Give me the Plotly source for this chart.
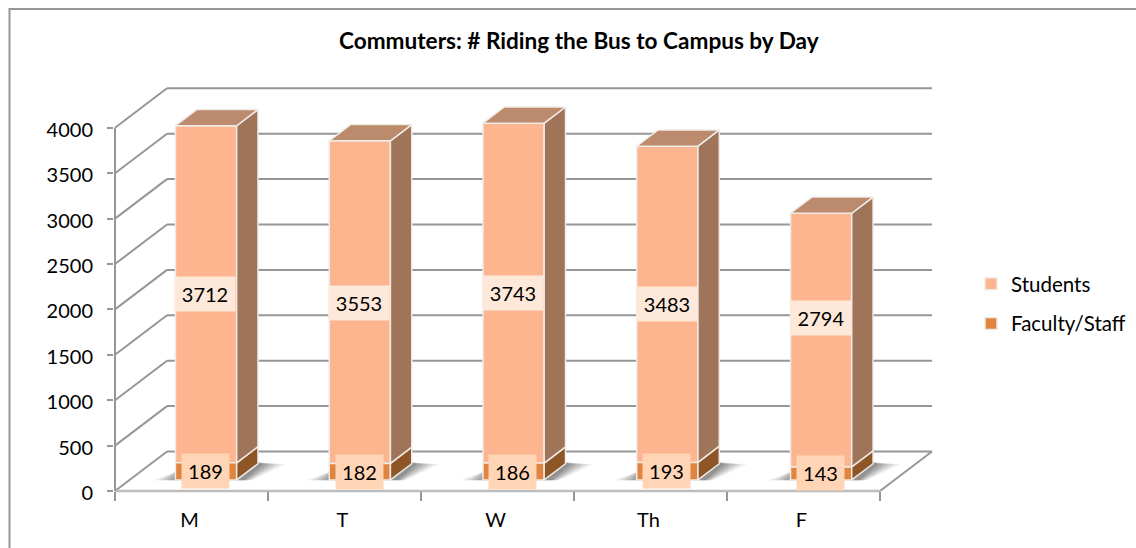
import plotly.graph_objects as go

days = ["M", "T", "W", "Th", "F"]
students = [3712, 3553, 3743, 3483, 2794]
faculty = [189, 182, 186, 193, 143]
y_ticks = [0, 500, 1000, 1500, 2000, 2500, 3000, 3500, 4000]
title = "Commuters: # Riding the Bus to Campus by Day"

W, H = 1136, 548
X0_PX, CAT_PX = 115.0, 153.0      # left end of front floor, width of one category
Y0_PX, UNIT_PX = 491.0, 0.0908    # zero line, px per rider
DEPTH_PX = (52.0, 39.5)
BAR_Z0, BAR_Z1 = 0.28, 0.69
HALF = 0.2
SPREAD = 1.005
LABEL_SHIFT = [0, -1, 0, 0, 22]

DX = DEPTH_PX[0] / CAT_PX
DY = DEPTH_PX[1] / UNIT_PX
xr = [-0.5 - X0_PX / CAT_PX, -0.5 + (W - X0_PX) / CAT_PX]
yr = [-(H - Y0_PX) / UNIT_PX, Y0_PX / UNIT_PX]
XL, XR = -0.5, len(days) - 0.5


def proj(x, v, z):
    return x + z * DX, v + z * DY


GRID = "#969696"
EDGE = "#EFEBE7"
S_FRONT, S_SIDE, S_TOP = "#FCB58F", "#9F7459", "#BC8A6C"
F_FRONT, F_SIDE = "#E0843F", "#8E5526"
FONT = "Lato, Carlito, sans-serif"
centers = [i * SPREAD for i in range(len(days))]

shapes = []


def seg(a, b, color=GRID, width=2):
    shapes.append(dict(type="line", xref="x", yref="y", x0=a[0], y0=a[1], x1=b[0], y1=b[1],
                       line=dict(color=color, width=width), layer="below"))


# chart frame
shapes.append(dict(type="rect", xref="paper", yref="paper", x0=9.5 / W, x1=1.2, y0=-0.2, y1=1 - 9 / H,
                   line=dict(color=GRID, width=2), layer="below"))

# walls and floor
for v in y_ticks[1:]:
    seg(proj(XL, v, 0), proj(XL, v, 1))
    seg(proj(XL, v, 1), proj(XR, v, 1))
seg(proj(XL, 0, 0), proj(XL, 0, 1))
seg(proj(XL, 0, 1), proj(XR, 0, 1))
seg(proj(XR, 0, 1), proj(XR, 0, 0))
seg(proj(XL, 0, 0), proj(XR, 0, 0), color="#BDBDBD", width=2.5)
seg(proj(XL, 0, 0), proj(XL, y_ticks[-1], 0))

# soft shadows on the floor
for c in centers:
    for grow, alpha in [(0.17, 0.10), (0.13, 0.15), (0.09, 0.20), (0.05, 0.25), (0.01, 0.30)]:
        pts = [
            proj(c - HALF - grow * 0.85, 0, BAR_Z0 - 0.01),
            proj(c + HALF + 0.05 + grow * 0.3, 0, BAR_Z0 - 0.01),
            proj(c + HALF + 0.03 + grow * 0.9, 0, BAR_Z0 + 0.40),
            proj(c + HALF - 0.02, 0, BAR_Z0 + 0.45),
            proj(c - HALF - 0.06, 0, BAR_Z0 + 0.42 - grow * 1.2),
        ]
        path = "M " + " L ".join(f"{a},{b}" for a, b in pts) + " Z"
        shapes.append(dict(type="path", path=path, xref="x", yref="y", fillcolor="#606060",
                           opacity=alpha, line=dict(width=0), layer="below"))

fig = go.Figure()
bar_x = [proj(c, 0, BAR_Z0)[0] for c in centers]
base_off = BAR_Z0 * DY
common = dict(x=bar_x, width=2 * HALF, cliponaxis=False, hoverinfo="skip")
fig.add_bar(name="Students", y=students, base=[base_off + f for f in faculty],
            marker=dict(color=S_FRONT, line=dict(color=EDGE, width=1.5)), legendgroup="s", **common)
fig.add_bar(name="Faculty/Staff", y=faculty, base=[base_off] * len(days),
            marker=dict(color=F_FRONT, line=dict(color=EDGE, width=1.5)), legendgroup="f", **common)


def poly_trace(polys, color):
    xs, ys = [], []
    for p in polys:
        for a, b in p + [p[0]]:
            xs.append(a)
            ys.append(b)
        xs.append(None)
        ys.append(None)
    fig.add_scatter(x=xs, y=ys, mode="lines", fill="toself", fillcolor=color,
                    line=dict(color=EDGE, width=1.5), showlegend=False, hoverinfo="skip")


def side(c, low, high):
    r = c + HALF
    return [proj(r, low, BAR_Z0), proj(r, low, BAR_Z1), proj(r, high, BAR_Z1), proj(r, high, BAR_Z0)]


def top(c, v):
    l, r = c - HALF, c + HALF
    return [proj(l, v, BAR_Z0), proj(r, v, BAR_Z0), proj(r, v, BAR_Z1), proj(l, v, BAR_Z1)]


poly_trace([side(c, 0, f) for c, f in zip(centers, faculty)], F_SIDE)
poly_trace([side(c, f, f + s) for c, f, s in zip(centers, faculty, students)], S_SIDE)
poly_trace([top(c, f + s) for c, f, s in zip(centers, faculty, students)], S_TOP)

annotations = []
for i in range(len(days)):
    cx = bar_x[i] - 0.004
    annotations.append(dict(x=cx, y=base_off + faculty[i] + students[i] / 2, text=str(students[i]),
                            showarrow=False, bgcolor="#FDE8D9", width=60, height=34, borderpad=0,
                            yshift=LABEL_SHIFT[i], font=dict(family=FONT, size=20, color="#000000")))
    annotations.append(dict(x=cx, y=base_off + faculty[i] / 2, text=str(faculty[i]),
                            showarrow=False, bgcolor="#FFD5B5", width=47, height=34, borderpad=0,
                            font=dict(family=FONT, size=20, color="#000000")))
annotations.append(dict(xref="paper", yref="paper", x=578.5 / W, y=1 - 41 / H, yanchor="middle",
                        text=f"<b>{title}</b>", showarrow=False,
                        font=dict(family=FONT, size=22.6, color="#000000")))

fig.update_layout(
    width=W, height=H, margin=dict(l=0, r=0, t=0, b=0),
    paper_bgcolor="#FFFFFF", plot_bgcolor="rgba(0,0,0,0)",
    barmode="overlay", shapes=shapes, annotations=annotations,
    font=dict(family=FONT, size=20, color="#000000"),
    legend=dict(x=971 / W, y=1 - 304 / H, yanchor="middle", xanchor="left", traceorder="grouped",
                tracegroupgap=10, bgcolor="rgba(0,0,0,0)", font=dict(family=FONT, size=20.5)),
    xaxis=dict(range=xr, domain=[0, 1], anchor="free", position=1 - Y0_PX / H, showgrid=False,
               zeroline=False, showline=False, tickmode="array", tickvals=list(range(len(days))),
               ticktext=days, ticks="", ticklabelstandoff=15, ticklabelshift=-2,
               tickfont=dict(family=FONT, size=20),
               minor=dict(tickvals=[i - 0.5 for i in range(len(days) + 1)], ticks="outside",
                          ticklen=9, tickwidth=1.5, tickcolor=GRID)),
    yaxis=dict(range=yr, domain=[0, 1], anchor="free", position=(X0_PX - 2) / W, showgrid=False,
               zeroline=False, showline=False, tickmode="array", tickvals=y_ticks, ticks="outside",
               ticklen=6, tickwidth=1.5, tickcolor=GRID, ticklabelstandoff=10, ticklabelshift=2,
               tickfont=dict(family=FONT, size=20)),
)

fig.write_html("out.html", config=dict(displayModeBar=False),
               post_script="document.body.style.margin='0';")
